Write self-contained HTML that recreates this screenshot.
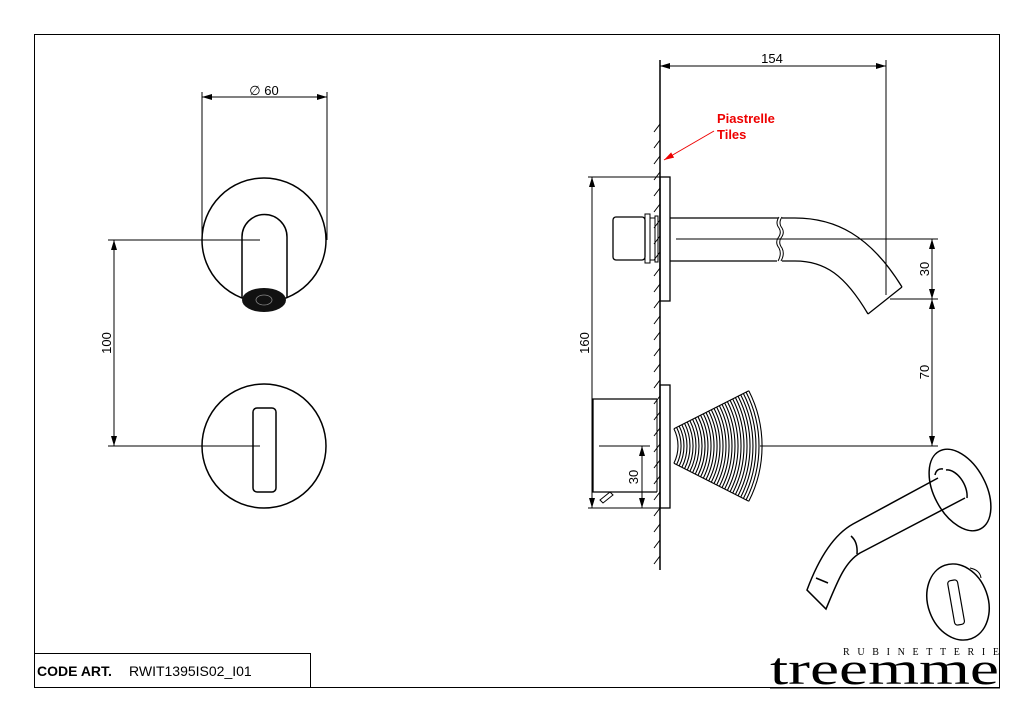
<!DOCTYPE html>
<html><head><meta charset="utf-8"><style>
html,body{margin:0;padding:0;background:#fff}
svg{display:block}
text{font-family:"Liberation Sans",sans-serif}
</style></head><body>
<svg width="1024" height="723" viewBox="0 0 1024 723" xmlns="http://www.w3.org/2000/svg">
<defs>
<marker id="a" markerWidth="10" markerHeight="6" refX="10" refY="3" orient="auto-start-reverse" markerUnits="userSpaceOnUse"><path d="M0,0 L10,3 L0,6z" fill="#000"/></marker>
<marker id="r" markerWidth="10" markerHeight="6" refX="10" refY="3" orient="auto" markerUnits="userSpaceOnUse"><path d="M0,0 L10,3 L0,6z" fill="#e00"/></marker>
</defs>
<rect x="34.5" y="34.5" width="965" height="653" fill="none" stroke="#000" stroke-width="1"/>
<g fill="none" stroke="#000" stroke-width="1">
<line x1="202" y1="92" x2="202" y2="240"/><line x1="327" y1="92" x2="327" y2="240"/>
<line x1="202" y1="97" x2="327" y2="97" marker-start="url(#a)" marker-end="url(#a)"/>
<circle cx="264" cy="240" r="62" stroke-width="1.5"/>
<path d="M242,298 V237 A22,22 0 0 1 287,237 V298" stroke-width="1.5"/>
<line x1="108" y1="240" x2="260" y2="240"/>
<line x1="108" y1="446" x2="260" y2="446"/>
<line x1="114" y1="240" x2="114" y2="446" marker-start="url(#a)" marker-end="url(#a)"/>
<circle cx="264" cy="446" r="62" stroke-width="1.5"/>
<rect x="253" y="408" width="23" height="84" rx="4" stroke-width="1.5"/>
</g>
<ellipse cx="264" cy="300" rx="22" ry="12" fill="#111"/>
<ellipse cx="264" cy="300" rx="8" ry="5" fill="none" stroke="#888" stroke-width="0.8"/>
<text x="264" y="95" font-size="13" text-anchor="middle">∅ 60</text>
<text x="0" y="0" font-size="13" text-anchor="middle" transform="translate(111,343) rotate(-90)">100</text>

<g fill="none" stroke="#000" stroke-width="1">
<line x1="660" y1="60" x2="660" y2="570" stroke-width="1.5"/>
<path d="M660,124 l-6,8 M660,140 l-6,8 M660,156 l-6,8 M660,172 l-6,8 M660,188 l-6,8 M660,204 l-6,8 M660,220 l-6,8 M660,236 l-6,8 M660,252 l-6,8 M660,268 l-6,8 M660,284 l-6,8 M660,300 l-6,8 M660,316 l-6,8 M660,332 l-6,8 M660,348 l-6,8 M660,364 l-6,8 M660,380 l-6,8 M660,396 l-6,8 M660,412 l-6,8 M660,428 l-6,8 M660,444 l-6,8 M660,460 l-6,8 M660,476 l-6,8 M660,492 l-6,8 M660,508 l-6,8 M660,524 l-6,8 M660,540 l-6,8 M660,556 l-6,8"/>
<line x1="886" y1="60" x2="886" y2="295"/>
<line x1="660" y1="66" x2="886" y2="66" marker-start="url(#a)" marker-end="url(#a)"/>
<rect x="660" y="177" width="10" height="124" stroke-width="1.3"/>
<line x1="588" y1="177" x2="660" y2="177"/>
<line x1="588" y1="508" x2="660" y2="508"/>
<line x1="592" y1="177" x2="592" y2="508" marker-start="url(#a)" marker-end="url(#a)"/>
<rect x="613" y="217" width="32" height="43" rx="3" stroke-width="1.3"/>
<rect x="645" y="214" width="5" height="49"/><rect x="650" y="218" width="5" height="42"/><rect x="655" y="216" width="3" height="46"/>
<path d="M670,218 H778 M670,261 H777" stroke-width="1.3"/>
<path d="M779,217 q-4,6 0,11 q3,5 -1,10 q-3,5 1,10 q3,6 -1,13"/>
<path d="M782,217 q-4,6 0,11 q3,5 -1,10 q-3,5 1,10 q3,6 -1,13"/>
<path d="M782,218 H795 C835,218 870,235 902,287" stroke-width="1.3"/>
<path d="M782,261 H795 C825,261 845,275 868,314" stroke-width="1.3"/>
<line x1="868" y1="314" x2="902" y2="287" stroke-width="1.3"/>
<line x1="676" y1="239" x2="938" y2="239"/>
<line x1="890" y1="299" x2="938" y2="299"/>
<line x1="760" y1="446" x2="938" y2="446"/>
<line x1="932" y1="239" x2="932" y2="299" marker-start="url(#a)" marker-end="url(#a)"/>
<line x1="932" y1="299" x2="932" y2="446" marker-start="url(#a)" marker-end="url(#a)"/>
<rect x="660" y="385" width="10" height="123" stroke-width="1.3"/>
<path d="M657,399 H593 V492 H657" stroke-width="1.3"/><line x1="657" y1="399" x2="657" y2="492"/>
<path d="M600,500 l10,-8 l3,3 l-10,8z"/>
<line x1="599" y1="446" x2="650" y2="446"/>
<line x1="642" y1="446" x2="642" y2="508" marker-start="url(#a)" marker-end="url(#a)"/>
</g>
<g fill="none" stroke="#000" stroke-width="1.1">
<path d="M673.9,428.8 A38,38 0 0 1 673.9,463.2"/>
<path d="M676.6,427.4 A41,41 0 0 1 676.6,464.6"/>
<path d="M679.2,426.1 A44,44 0 0 1 679.2,465.9"/>
<path d="M681.9,424.7 A47,47 0 0 1 681.9,467.3"/>
<path d="M684.6,423.4 A50,50 0 0 1 684.6,468.6"/>
<path d="M687.3,422 A53,53 0 0 1 687.3,470"/>
<path d="M689.9,420.6 A56,56 0 0 1 689.9,471.4"/>
<path d="M692.6,419.3 A59,59 0 0 1 692.6,472.7"/>
<path d="M695.3,417.9 A62,62 0 0 1 695.3,474.1"/>
<path d="M698,416.6 A65,65 0 0 1 698,475.4"/>
<path d="M700.6,415.2 A68,68 0 0 1 700.6,476.8"/>
<path d="M703.3,413.8 A71,71 0 0 1 703.3,478.2"/>
<path d="M706,412.5 A74,74 0 0 1 706,479.5"/>
<path d="M708.7,411.1 A77,77 0 0 1 708.7,480.9"/>
<path d="M711.3,409.8 A80,80 0 0 1 711.3,482.2"/>
<path d="M714,408.4 A83,83 0 0 1 714,483.6"/>
<path d="M716.7,407.1 A86,86 0 0 1 716.7,484.9"/>
<path d="M719.4,405.7 A89,89 0 0 1 719.4,486.3"/>
<path d="M722,404.3 A92,92 0 0 1 722,487.7"/>
<path d="M724.7,403 A95,95 0 0 1 724.7,489"/>
<path d="M727.4,401.6 A98,98 0 0 1 727.4,490.4"/>
<path d="M730.1,400.3 A101,101 0 0 1 730.1,491.7"/>
<path d="M732.7,398.9 A104,104 0 0 1 732.7,493.1"/>
<path d="M735.4,397.5 A107,107 0 0 1 735.4,494.5"/>
<path d="M738.1,396.2 A110,110 0 0 1 738.1,495.8"/>
<path d="M740.7,394.8 A113,113 0 0 1 740.7,497.2"/>
<path d="M743.4,393.5 A116,116 0 0 1 743.4,498.5"/>
<path d="M746.1,392.1 A119,119 0 0 1 746.1,499.9"/>
<path d="M748.8,390.7 A122,122 0 0 1 748.8,501.3"/>
<path d="M673.9,428.8 L748.8,390.7 M673.9,463.2 L748.8,501.3"/>
</g>
<text x="0" y="0" font-size="13" text-anchor="middle" transform="translate(589,343) rotate(-90)">160</text>
<text x="772" y="63" font-size="13" text-anchor="middle">154</text>
<text x="0" y="0" font-size="13" text-anchor="middle" transform="translate(929,269) rotate(-90)">30</text>
<text x="0" y="0" font-size="13" text-anchor="middle" transform="translate(929,372) rotate(-90)">70</text>
<text x="0" y="0" font-size="13" text-anchor="middle" transform="translate(638,477) rotate(-90)">30</text>
<text x="717" y="123" font-size="13" font-weight="bold" fill="#e00">Piastrelle</text>
<text x="717" y="139" font-size="13" font-weight="bold" fill="#e00">Tiles</text>
<line x1="714" y1="131" x2="664" y2="160" stroke="#e00" stroke-width="1" marker-end="url(#r)"/>

<g fill="none" stroke="#000" stroke-width="1.5">
<ellipse cx="960" cy="490" rx="26" ry="44" transform="rotate(-28 960 490)"/>
<path d="M935,475 a10,18 -28 0 1 8,-6"/>
<path d="M938,478 L853,524 C835,534 820,555 807,590 L826,609 C838,580 845,562 860,553 L965,498"/>
<path d="M946,470 a12,20 -28 0 1 21,28"/>
<path d="M851,536 q7,6 6,18"/>
<path d="M816,578 l12,5"/>
<ellipse cx="958" cy="602" rx="30" ry="39" transform="rotate(-20 958 602)"/>
<rect x="951" y="580" width="10" height="45" rx="3" transform="rotate(-10 956 602)" stroke-width="1.2"/>
<path d="M970,568 q10,2 11,10" stroke-width="1"/>
</g>

<rect x="34.5" y="653.5" width="276" height="34" fill="none" stroke="#000"/>
<text x="37" y="676" font-size="14" font-weight="bold">CODE ART.</text>
<text x="129" y="676" font-size="14">RWIT1395IS02_I01</text>
<text x="843" y="655" font-size="10" style="font-family:'Liberation Serif',serif" textLength="156" lengthAdjust="spacing">RUBINETTERIE</text>
<text x="770" y="684" font-size="46" style="font-family:'Liberation Serif',serif" textLength="229" lengthAdjust="spacingAndGlyphs">treemme</text>
<line x1="770" y1="688" x2="1000" y2="688" stroke="#000"/>
</svg>
</body></html>
